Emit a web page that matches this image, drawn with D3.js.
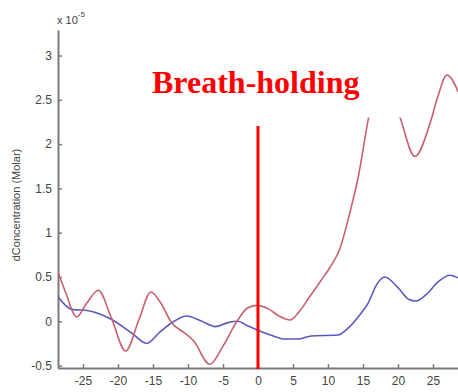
<!DOCTYPE html>
<html>
<head>
<meta charset="utf-8">
<script src="https://cdn.jsdelivr.net/npm/d3@7"></script>
<style>
  html, body { margin: 0; padding: 0; background: #fff; }
  svg { display: block; }
</style>
</head>
<body>
<svg id="chart" width="458" height="392"></svg>
<script>
// Time relative to breath-hold onset (s) and concentration change (x 1e-5 Molar)
const redSeries = [
  [-28.6, 0.56], [-27.5, 0.33], [-25.9, 0.05], [-24.5, 0.2], [-22.8, 0.35],
  [-21.0, 0.05], [-18.9, -0.335], [-17.0, 0.02], [-15.3, 0.33], [-14.0, 0.22],
  [-12.3, -0.02], [-10.5, -0.13], [-9.2, -0.22], [-6.9, -0.485], [-5.0, -0.28],
  [-3.0, 0.0], [-1.5, 0.15], [-0.2, 0.18], [1.5, 0.14], [3.0, 0.06],
  [4.6, 0.015], [6.0, 0.12], [7.4, 0.28], [9.0, 0.46], [10.3, 0.61],
  [11.7, 0.82], [13.1, 1.22], [14.3, 1.62], [15.8, 2.30], [17.5, 2.9],
  [20.3, 2.30], [22.4, 1.86], [24.6, 2.24], [25.7, 2.54], [27.0, 2.78],
  [28.6, 2.59]
];
const blueSeries = [
  [-28.6, 0.28], [-27.5, 0.18], [-26.6, 0.135], [-24.2, 0.12], [-22.5, 0.08],
  [-20.9, 0.02], [-18.0, -0.135], [-15.9, -0.25], [-14.0, -0.12], [-12.0, 0.0],
  [-10.2, 0.06], [-8.0, 0.0], [-6.1, -0.06], [-4.3, -0.015], [-2.9, 0.0],
  [-1.5, -0.05], [0.0, -0.1], [2.0, -0.16], [3.8, -0.2], [5.7, -0.2],
  [7.6, -0.165], [11.4, -0.155], [12.9, -0.075], [14.3, 0.05], [15.7, 0.2],
  [17.0, 0.42], [18.1, 0.5], [20.0, 0.38], [21.5, 0.25], [22.6, 0.23],
  [24.0, 0.3], [25.8, 0.45], [27.4, 0.52], [28.6, 0.49]
];
const xTicks = [-25, -20, -15, -10, -5, 0, 5, 10, 15, 20, 25];
const yTicks = [-0.5, 0, 0.5, 1, 1.5, 2, 2.5, 3];
const onsetTime = 0;
const eventLabel = "Breath-holding";
const yLabel = "dConcentration (Molar)";

const svg = d3.select("#chart");
const plotLeft = 58, plotRight = 460, plotTop = 30, plotBottom = 368;

const x = d3.scaleLinear().domain([-28.57, 28.86]).range([plotLeft, plotRight]);
const y = d3.scaleLinear().domain([-0.527, 3.288]).range([plotBottom, plotTop]);

const axisColor = "#7a7a7a", textColor = "#444";

// Axes (inward ticks)
const gx = svg.append("g").attr("transform", `translate(0,${plotBottom})`)
  .call(d3.axisBottom(x).tickValues(xTicks).tickSizeInner(-4).tickSizeOuter(0).tickPadding(8)
    .tickFormat(d => String(d)));
const gy = svg.append("g").attr("transform", `translate(${plotLeft},0)`)
  .call(d3.axisLeft(y).tickValues(yTicks).tickSizeInner(-4).tickSizeOuter(0).tickPadding(6)
    .tickFormat(d => String(d)));
[gx, gy].forEach(g => {
  g.select(".domain").attr("stroke", axisColor).attr("stroke-width", 2);
  g.selectAll(".tick line").attr("stroke", axisColor).attr("stroke-width", 1.5);
  g.selectAll(".tick text").attr("fill", textColor)
    .style("font-family", "Liberation Sans, Arial, sans-serif").style("font-size", "12px");
});

// Exponent marker
const expo = svg.append("text").attr("x", 57).attr("y", 24).attr("fill", textColor)
  .style("font-family", "Liberation Sans, Arial, sans-serif").style("font-size", "11px");
expo.append("tspan").text("x 10");
expo.append("tspan").attr("dy", -7).style("font-size", "8px").text("-5");

// Y axis title
svg.append("text")
  .attr("transform", "translate(20,205) rotate(-90)")
  .attr("text-anchor", "middle").attr("fill", textColor)
  .style("font-family", "Liberation Sans, Arial, sans-serif").style("font-size", "11px")
  .text(yLabel);

// Curves
svg.append("clipPath").attr("id", "plotClip").append("rect")
  .attr("x", plotLeft).attr("y", plotTop).attr("width", plotRight - plotLeft).attr("height", plotBottom - plotTop);

const line = d3.line().x(d => x(d[0])).y(d => y(d[1])).curve(d3.curveMonotoneX);
const curves = svg.append("g").attr("clip-path", "url(#plotClip)");
curves.append("path").datum(blueSeries).attr("d", line)
  .attr("fill", "none").attr("stroke", "#5a5ac0").attr("stroke-width", 1.6);
curves.append("path").datum(redSeries).attr("d", line)
  .attr("fill", "none").attr("stroke", "#c8606e").attr("stroke-width", 1.6);

// Event annotation box, label and onset marker
svg.append("rect").attr("x", 140).attr("y", 50).attr("width", 262).attr("height", 67.5)
  .attr("fill", "#fff");
svg.append("text").attr("x", 152).attr("y", 93).attr("fill", "#ff0000")
  .style("font-family", "Liberation Serif, Times New Roman, serif")
  .style("font-weight", "bold").style("font-size", "32px")
  .text(eventLabel);
svg.append("line").attr("x1", x(onsetTime)).attr("x2", x(onsetTime))
  .attr("y1", 126).attr("y2", plotBottom + 1)
  .attr("stroke", "#ff0000").attr("stroke-width", 3);
</script>
</body>
</html>
